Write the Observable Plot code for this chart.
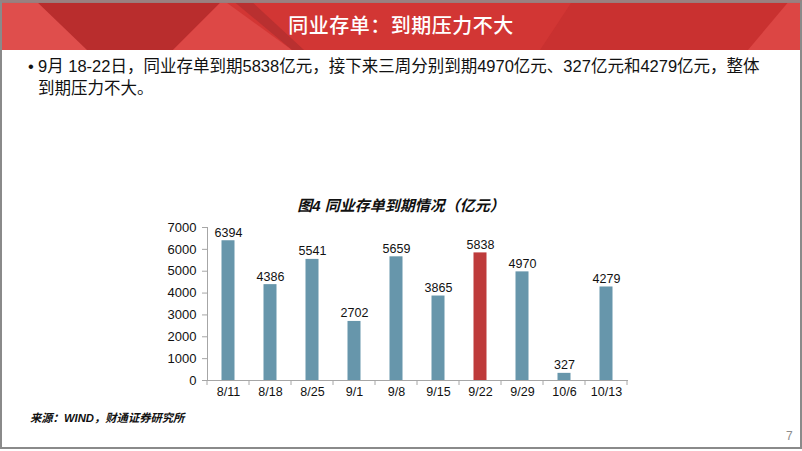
<!DOCTYPE html>
<html>
<head>
<meta charset="utf-8">
<script src="https://cdn.jsdelivr.net/npm/d3@7"></script>
<script src="https://cdn.jsdelivr.net/npm/@observablehq/plot@0.6"></script>
<style>
  html, body { margin: 0; padding: 0; background: #fff; }
  #page { position: relative; width: 802px; height: 451px; overflow: hidden; background: #fff;
    font-family: "Liberation Sans", "Noto Sans CJK SC", sans-serif; }
  #frame { position: absolute; left: 0; top: 0; width: 798px; height: 445px; border: 2px solid #8a8a8a; border-top-color: #9a8080; pointer-events: none; z-index: 5; }
  #header { position: absolute; left: 0; top: 0; width: 802px; height: 50px; }
  #header svg { position: absolute; left: 0; top: 0; }
  #htitle { position: absolute; left: 0; top: 0; width: 802px; height: 50px; line-height: 50px; text-align: center;
    color: #fff; font-family: "Noto Sans CJK SC", sans-serif; font-size: 20px; font-weight: 500; letter-spacing: 0.5px; }
  #bullet { position: absolute; left: 28px; top: 56px; font-size: 16.5px; line-height: 21.5px; white-space: nowrap; color: #111;
    font-family: "Liberation Sans", "Noto Sans CJK SC", sans-serif; }
  #bullet .dot { position: absolute; left: 0; top: 0; }
  #bullet .txt { margin-left: 10px; }
  #ctitle { position: absolute; left: 0; width: 802px; top: 194px; text-align: center; font-size: 15px; font-weight: bold; font-style: italic;
    font-family: "Liberation Sans", "Noto Sans CJK SC", sans-serif; color: #111; }
  #chart { position: absolute; left: 0; top: 215px; }
  #source { position: absolute; left: 30px; top: 409px; font-size: 11.3px; font-weight: bold; font-style: italic; color: #111;
    font-family: "Liberation Sans", "Noto Sans CJK SC", sans-serif; }
  #pnum { position: absolute; left: 786px; top: 429px; font-size: 12px; color: #8c8c8c; }
</style>
</head>
<body>
<div id="page">
  <div id="header">
    <svg width="802" height="50">
      <rect x="0" y="0" width="802" height="50" fill="#d23634"/>
      <polygon points="0,0 60,0 100,50 0,50" fill="#df4e4c"/>
      <polygon points="35,0 223,0 173,50 87,50" fill="#b92d2d"/>
      <polygon points="223,0 292,50 173,50" fill="#dd4846"/>
      <polygon points="232,0 250,0 304,50 292,50" fill="#b93030"/>
      <polygon points="573,0 802,0 802,50 540,50" fill="#c93130"/>
      <polygon points="790,0 802,0 802,50 748,50" fill="#dc4644"/>
      <rect x="0" y="0" width="802" height="3" fill="#9a7c7c"/>
    </svg>
    <div id="htitle">同业存单：到期压力不大</div>
  </div>
  <div id="bullet"><span class="dot">•</span><div class="txt">9月 18-22日，同业存单到期5838亿元，接下来三周分别到期4970亿元、327亿元和4279亿元，整体<br>到期压力不大。</div></div>
  <div id="ctitle">图4 同业存单到期情况（亿元）</div>
  <div id="chart"></div>
  <div id="source">来源：WIND，财通证券研究所</div>
  <div id="pnum">7</div>
  <div id="frame"></div>
</div>
<script>
const categories = ["8/11", "8/18", "8/25", "9/1", "9/8", "9/15", "9/22", "9/29", "10/6", "10/13"];
const values = [6394, 4386, 5541, 2702, 5659, 3865, 5838, 4970, 327, 4279];
const highlight = "9/22";
const yTicks = [0, 1000, 2000, 3000, 4000, 5000, 6000, 7000];
const blue = "#6796ab";
const red = "#be3b3b";
const axisGray = "#a6a6a6";

const data = categories.map((c, i) => ({cat: c, value: values[i]}));

const plot = Plot.plot({
  width: 802,
  height: 190,
  marginLeft: 207,
  marginRight: 175,
  marginTop: 12,
  marginBottom: 25,
  style: {fontFamily: "'Liberation Sans', Arial, sans-serif", fontSize: "13px", color: "#111", background: "transparent", overflow: "visible"},
  x: {domain: categories, padding: 0, label: null},
  y: {domain: [0, 7000], label: null},
  marks: [
    Plot.barY(data, {x: "cat", y: "value", fill: d => d.cat === highlight ? red : blue, insetLeft: 14.5, insetRight: 14.5}),
    Plot.text(data, {x: "cat", y: "value", text: d => String(d.value), lineAnchor: "bottom", dy: -4, fontSize: 12.5, fill: "#111"}),
    Plot.axisY({ticks: yTicks, tickSize: 5, tickPadding: 6, stroke: axisGray, fill: "#111", fontSize: 13, tickFormat: d => String(d)}),
    Plot.axisX({tickSize: 0, tickPadding: 7, fill: "#111", fontSize: 12.5}),
    Plot.frame({anchor: "left", stroke: axisGray}),
    Plot.frame({anchor: "bottom", stroke: axisGray})
  ]
});
document.getElementById("chart").appendChild(plot);

// band-boundary tick marks on the category axis, from the plot's own scales
const xs = plot.scale("x");
const ys = plot.scale("y");
const y0 = ys.apply(0);
const bounds = categories.map(c => xs.apply(c)).concat([xs.apply(categories[categories.length - 1]) + xs.bandwidth]);
d3.select(plot).append("g")
  .attr("stroke", axisGray)
  .selectAll("line")
  .data(bounds)
  .join("line")
  .attr("x1", d => d).attr("x2", d => d)
  .attr("y1", y0).attr("y2", y0 + 5);
</script>
</body>
</html>
